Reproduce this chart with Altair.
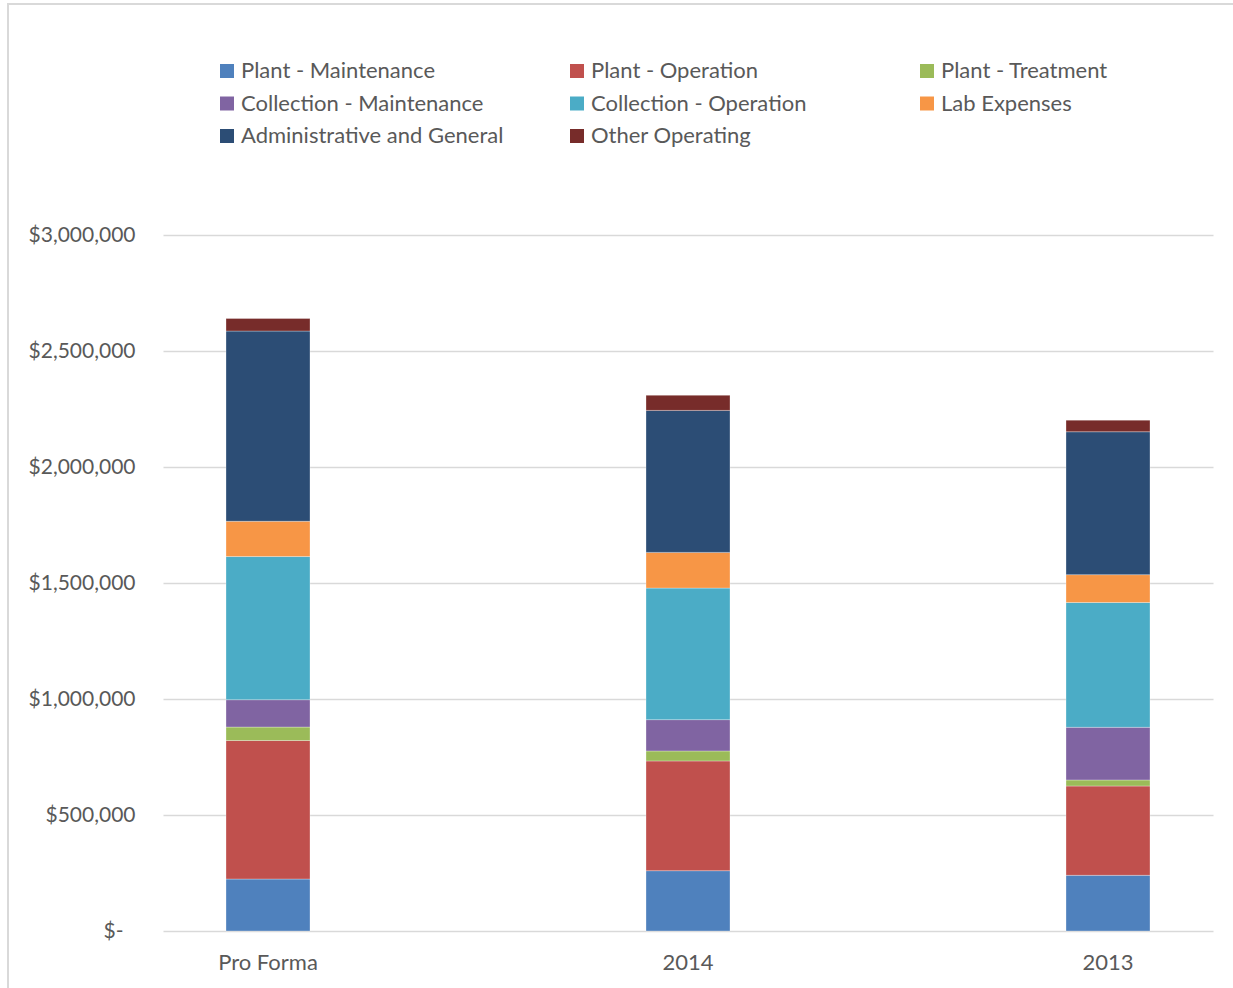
import altair as alt
import pandas as pd

# Operating expense breakdown by period
categories = ["Pro Forma", "2014", "2013"]

series = [
    "Plant - Maintenance",
    "Plant - Operation",
    "Plant - Treatment",
    "Collection - Maintenance",
    "Collection - Operation",
    "Lab Expenses",
    "Administrative and General",
    "Other Operating",
]

colors = [
    "#4F81BD",
    "#C0504D",
    "#9BBB59",
    "#8064A2",
    "#4BACC6",
    "#F79646",
    "#2C4D75",
    "#772C2A",
]

plant_maintenance = [224000, 260000, 240000]
plant_operation = [597000, 473000, 385000]
plant_treatment = [58000, 43000, 26000]
collection_maintenance = [118000, 135000, 227000]
collection_operation = [617000, 567000, 538000]
lab_expenses = [152000, 154000, 120000]
admin_general = [820000, 612000, 616000]
other_operating = [54000, 65000, 50000]

y_ticks = [0, 500000, 1000000, 1500000, 2000000, 2500000, 3000000]

values = [
    plant_maintenance,
    plant_operation,
    plant_treatment,
    collection_maintenance,
    collection_operation,
    lab_expenses,
    admin_general,
    other_operating,
]

rows = []
for i, name in enumerate(series):
    for cat, amount in zip(categories, values[i]):
        rows.append({"Category": cat, "Series": name, "Order": i, "Amount": amount})
df = pd.DataFrame(rows)

FONT = "Lato"
TEXT = "#595959"
GRID = "#d9d9d9"

# outer frame of the chart area
frame = alt.Chart(alt.Data(values=[{}])).mark_rect(
    fillOpacity=0, stroke=GRID, strokeWidth=2
).encode(
    x=alt.value(-155), x2=alt.value(1200), y=alt.value(-231), y2=alt.value(900)
)

bars = alt.Chart(df).mark_bar(
    stroke="#ffffff", strokeWidth=0.6, strokeOpacity=0.5
).encode(
    x=alt.X(
        "Category:N",
        sort=categories,
        scale=alt.Scale(paddingInner=0.8, paddingOuter=0.15),
        axis=alt.Axis(
            title=None, labelAngle=0, domain=False, ticks=False,
            labelPadding=21, labelFontSize=22, labelColor=TEXT, labelFont=FONT,
        ),
    ),
    y=alt.Y(
        "Amount:Q",
        stack="zero",
        scale=alt.Scale(domain=[0, 3000000], nice=False),
        axis=alt.Axis(
            title=None, values=y_ticks, domain=False, ticks=False,
            labelPadding={"condition": {"test": "datum.value == 0", "value": 40}, "value": 28},
            labelFontSize=21, labelColor=TEXT, labelFont=FONT,
            labelExpr="datum.value == 0 ? '$-' : '$' + format(datum.value, ',')",
            grid=True, gridColor=GRID, gridWidth=1.3,
        ),
    ),
    color=alt.Color(
        "Series:N",
        scale=alt.Scale(domain=series, range=colors),
        legend=alt.Legend(
            title=None, orient="none", legendX=53, legendY=-175,
            direction="horizontal", columns=3, gridAlign="all",
            columnPadding=62, rowPadding=10.5,
            symbolType="square", symbolSize=196, symbolStrokeWidth=0,
            labelFontSize=22, labelFont=FONT, labelColor=TEXT,
            labelOffset=3, labelLimit=400,
        ),
    ),
    order=alt.Order("Order:Q", sort="ascending"),
)

chart = alt.layer(frame, bars).properties(
    width=1050,
    height=696,
    autosize=alt.AutoSizeParams(type="none"),
    padding={"left": 163, "top": 235, "right": 20, "bottom": 57},
    background="#ffffff",
).configure_view(stroke=None)

chart.save("out.html", embed_options={"renderer": "svg", "actions": False})
